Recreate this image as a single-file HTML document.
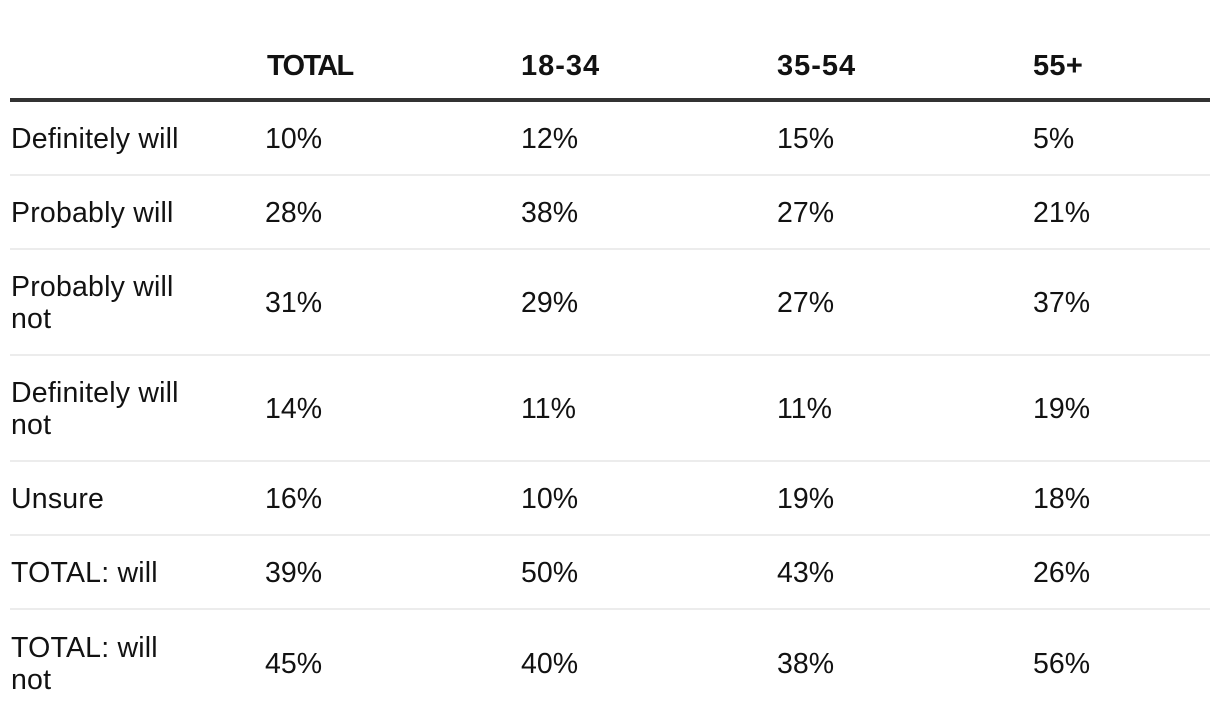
<!DOCTYPE html>
<html>
<head>
<meta charset="utf-8">
<style>
  html, body { margin:0; padding:0; background:#fff; }
  body { width:1220px; height:728px; position:relative; overflow:hidden;
         font-family:"Liberation Sans", Arial, sans-serif; color:#121212; }
  .hline { position:absolute; left:10px; width:1200px; }
  .thick { top:98px; height:4px; background:#333; }
  .thin { height:2px; background:#ececec; }
  .row { position:absolute; left:0; width:1220px; display:flex; align-items:center; }
  .c { position:absolute; font-size:28.5px; line-height:32px; margin-top:2px; }
  .lab { left:11px; letter-spacing:0.2px; }
  .c1 { left:265px; } .c2 { left:521px; } .c3 { left:777px; } .c4 { left:1033px; }
  .hd { font-weight:bold; font-size:29px; top:50px; line-height:32px; position:absolute; }
</style>
</head>
<body>
  <div class="hd" style="left:267px;letter-spacing:-1.7px">TOTAL</div>
  <div class="hd" style="left:521px;letter-spacing:1px">18-34</div>
  <div class="hd" style="left:777px;letter-spacing:1px">35-54</div>
  <div class="hd" style="left:1033px;letter-spacing:0.3px">55+</div>
  <div class="hline thick"></div>

  <div class="row" style="top:102px;height:72px;">
    <div class="c lab">Definitely will</div>
    <div class="c c1">10%</div><div class="c c2">12%</div><div class="c c3">15%</div><div class="c c4">5%</div>
  </div>
  <div class="hline thin" style="top:174px"></div>

  <div class="row" style="top:176px;height:72px;">
    <div class="c lab">Probably will</div>
    <div class="c c1">28%</div><div class="c c2">38%</div><div class="c c3">27%</div><div class="c c4">21%</div>
  </div>
  <div class="hline thin" style="top:248px"></div>

  <div class="row" style="top:250px;height:104px;">
    <div class="c lab">Probably will<br>not</div>
    <div class="c c1">31%</div><div class="c c2">29%</div><div class="c c3">27%</div><div class="c c4">37%</div>
  </div>
  <div class="hline thin" style="top:354px"></div>

  <div class="row" style="top:356px;height:104px;">
    <div class="c lab">Definitely will<br>not</div>
    <div class="c c1">14%</div><div class="c c2">11%</div><div class="c c3">11%</div><div class="c c4">19%</div>
  </div>
  <div class="hline thin" style="top:460px"></div>

  <div class="row" style="top:462px;height:72px;">
    <div class="c lab">Unsure</div>
    <div class="c c1">16%</div><div class="c c2">10%</div><div class="c c3">19%</div><div class="c c4">18%</div>
  </div>
  <div class="hline thin" style="top:534px"></div>

  <div class="row" style="top:536px;height:72px;">
    <div class="c lab">TOTAL: will</div>
    <div class="c c1">39%</div><div class="c c2">50%</div><div class="c c3">43%</div><div class="c c4">26%</div>
  </div>
  <div class="hline thin" style="top:608px"></div>

  <div class="row" style="top:610px;height:106px;">
    <div class="c lab">TOTAL: will<br>not</div>
    <div class="c c1">45%</div><div class="c c2">40%</div><div class="c c3">38%</div><div class="c c4">56%</div>
  </div>
</body>
</html>
